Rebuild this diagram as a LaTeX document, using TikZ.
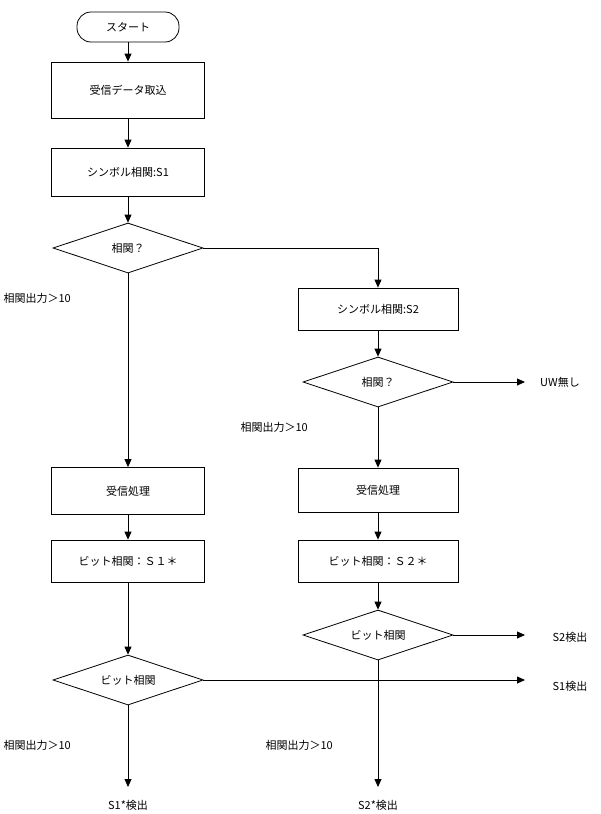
\documentclass[tikz,border=0pt]{standalone}
\usepackage{fontspec}
\newfontfamily\cjk{Noto Sans CJK JP}
\usetikzlibrary{arrows.meta,shapes.geometric}
\begin{document}
\begin{tikzpicture}[x=1pt,y=-1pt,font=\cjk\fontsize{11}{13}\selectfont,
  box/.style={draw,thick,minimum width=153pt,minimum height=46pt},
  dia/.style={draw,thick,diamond,aspect=3,minimum width=150pt,minimum height=50pt,inner sep=0pt},
  arr/.style={thick,-{Triangle[length=8pt,width=7pt]}}]
    \useasboundingbox (0,0) rectangle (600,814);

		\node[draw,thick,rounded corners=14pt,minimum width=102pt,minimum height=30pt] (start) at (128,27) {スタート};
		\node[box,minimum height=56pt] (recv) at (128,90) {受信データ取込};
		\node[box,minimum height=48pt] (symA) at (128,172) {シンボル相関:S1};
		\node[dia] (corA) at (128,248) {相関？};
		\node[box,minimum width=160pt,minimum height=42pt] (symB) at (378,309) {シンボル相関:S2};
		\node[dia] (corB) at (378,382) {相関？};
		\node (noUW) at (560,382) {UW無し};
		\coordinate (uwEnd) at (525,382);

		\node[box,minimum height=47pt] (procA) at (128,491) {受信処理};
		\node[box,minimum width=160pt,minimum height=44pt] (procB) at (378,490) {受信処理};
		\node[box,minimum height=42pt] (bitA) at (128,561) {ビット相関：Ｓ１＊};
		\node[box,minimum width=160pt,minimum height=42pt] (bitB) at (378,561) {ビット相関：Ｓ２＊};
		\node[dia] (bcorA) at (128,680) {ビット相関};
		\node[dia] (bcorB) at (378,635) {ビット相関};

		\node (detB) at (570,637) {S2検出};
		\node (detA) at (570,686) {S1検出};
		\node (detAs) at (128,805) {S1*検出};
		\node (detBs) at (378,805) {S2*検出};
		\coordinate (eB) at (525,635);
		\coordinate (eA) at (525,680);
		\coordinate (eAs) at (128,787);
		\coordinate (eBs) at (378,787);

		\node[right] at (0,298) {相関出力＞10};
		\node[right] at (237,427) {相関出力＞10};
		\node[right] at (0,745) {相関出力＞10};
		\node[right] at (262,745) {相関出力＞10};

		\draw[arr] (start)--(recv);
		\draw[arr] (recv)--(symA);
		\draw[arr] (symA)--(corA);
		\draw[arr] (corA.east)-|(symB.north);
		\draw[arr] (symB)--(corB);
		\draw[arr] (corB.east)--(uwEnd);
		\draw[arr] (corA)--(procA);
		\draw[arr] (corB)--(procB);
		\draw[arr] (procA)--(bitA);
		\draw[arr] (procB)--(bitB);
		\draw[arr] (bitA)--(bcorA);
		\draw[arr] (bitB)--(bcorB);
		\draw[arr] (bcorB.east)--(eB);
		\draw[arr] (bcorA.east)--(eA);
		\draw[arr] (bcorA)--(eAs);
		\draw[arr] (bcorB)--(eBs);
\end{tikzpicture}
\end{document}
